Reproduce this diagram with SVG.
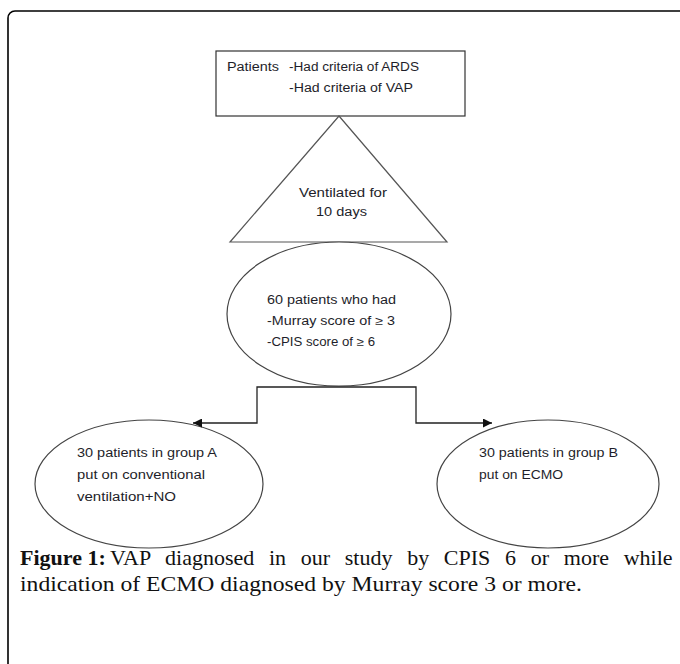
<svg xmlns="http://www.w3.org/2000/svg" width="680" height="664" viewBox="0 0 680 664">
<style>
.shape{fill:#fff;stroke:#444;stroke-width:1.2}
.lbl{font-family:"Liberation Sans",Arial,sans-serif;font-size:12px;fill:#1e1e2a}
.conn{fill:none;stroke:#222;stroke-width:1.3}
.cap{font-family:"Liberation Serif","Times New Roman",serif;font-size:22px;fill:#111}
</style>
<defs>
<marker id="arr" viewBox="0 0 10 10" refX="10" refY="5" markerWidth="9" markerHeight="9" markerUnits="userSpaceOnUse" orient="auto">
<path d="M0,0 L10,5 L0,10 Z" fill="#111"/>
</marker>
</defs>
<rect x="0" y="0" width="680" height="664" fill="#fff"/>
<rect x="8" y="11" width="720" height="720" rx="7" fill="none" stroke="#000" stroke-width="1.6"/>

<g id="patients">
<rect class="shape" x="216" y="51" width="249" height="65" style="stroke:#333"/>
<text class="lbl" x="227" y="71" textLength="52" lengthAdjust="spacingAndGlyphs">Patients</text>
<text class="lbl" x="289" y="71" textLength="130" lengthAdjust="spacingAndGlyphs">-Had criteria of ARDS</text>
<text class="lbl" x="289" y="92" textLength="124" lengthAdjust="spacingAndGlyphs">-Had criteria of VAP</text>
</g>

<g id="ventilated">
<polygon class="shape" points="339,116 447,242 230,242" style="stroke:#555"/>
<text class="lbl" x="299" y="197" textLength="88" lengthAdjust="spacingAndGlyphs">Ventilated for</text>
<text class="lbl" x="316" y="216" textLength="51" lengthAdjust="spacingAndGlyphs">10 days</text>
</g>

<g id="sixty">
<ellipse class="shape" cx="339" cy="314" rx="112" ry="72"/>
<text class="lbl" x="267" y="304" textLength="129" lengthAdjust="spacingAndGlyphs">60 patients who had</text>
<text class="lbl" x="267" y="325" textLength="128" lengthAdjust="spacingAndGlyphs">-Murray score of ≥ 3</text>
<text class="lbl" x="267" y="346" textLength="108" lengthAdjust="spacingAndGlyphs">-CPIS score of ≥ 6</text>
</g>

<g id="groupA">
<ellipse class="shape" cx="149" cy="484" rx="114" ry="64"/>
<text class="lbl" x="77" y="457" textLength="140" lengthAdjust="spacingAndGlyphs">30 patients in group A</text>
<text class="lbl" x="77" y="479" textLength="128" lengthAdjust="spacingAndGlyphs">put on conventional</text>
<text class="lbl" x="77" y="501" textLength="99" lengthAdjust="spacingAndGlyphs">ventilation+NO</text>
</g>

<g id="groupB">
<ellipse class="shape" cx="548" cy="484" rx="111" ry="64"/>
<text class="lbl" x="479" y="457" textLength="139" lengthAdjust="spacingAndGlyphs">30 patients in group B</text>
<text class="lbl" x="479" y="479" textLength="84" lengthAdjust="spacingAndGlyphs">put on ECMO</text>
</g>

<g id="connectors">
<path class="conn" d="M337,387 H257 V423 H193" marker-end="url(#arr)"/>
<path class="conn" d="M337,387 H416 V423 H492" marker-end="url(#arr)"/>
</g>

<g id="caption">
<text class="cap" x="20" y="565" font-weight="bold">Figure 1:</text>
<text class="cap" x="110" y="565" word-spacing="9.2">VAP diagnosed in our study by CPIS 6 or more while</text>
<text class="cap" x="20" y="591" textLength="562" lengthAdjust="spacingAndGlyphs">indication of ECMO diagnosed by Murray score 3 or more.</text>
</g>
</svg>
